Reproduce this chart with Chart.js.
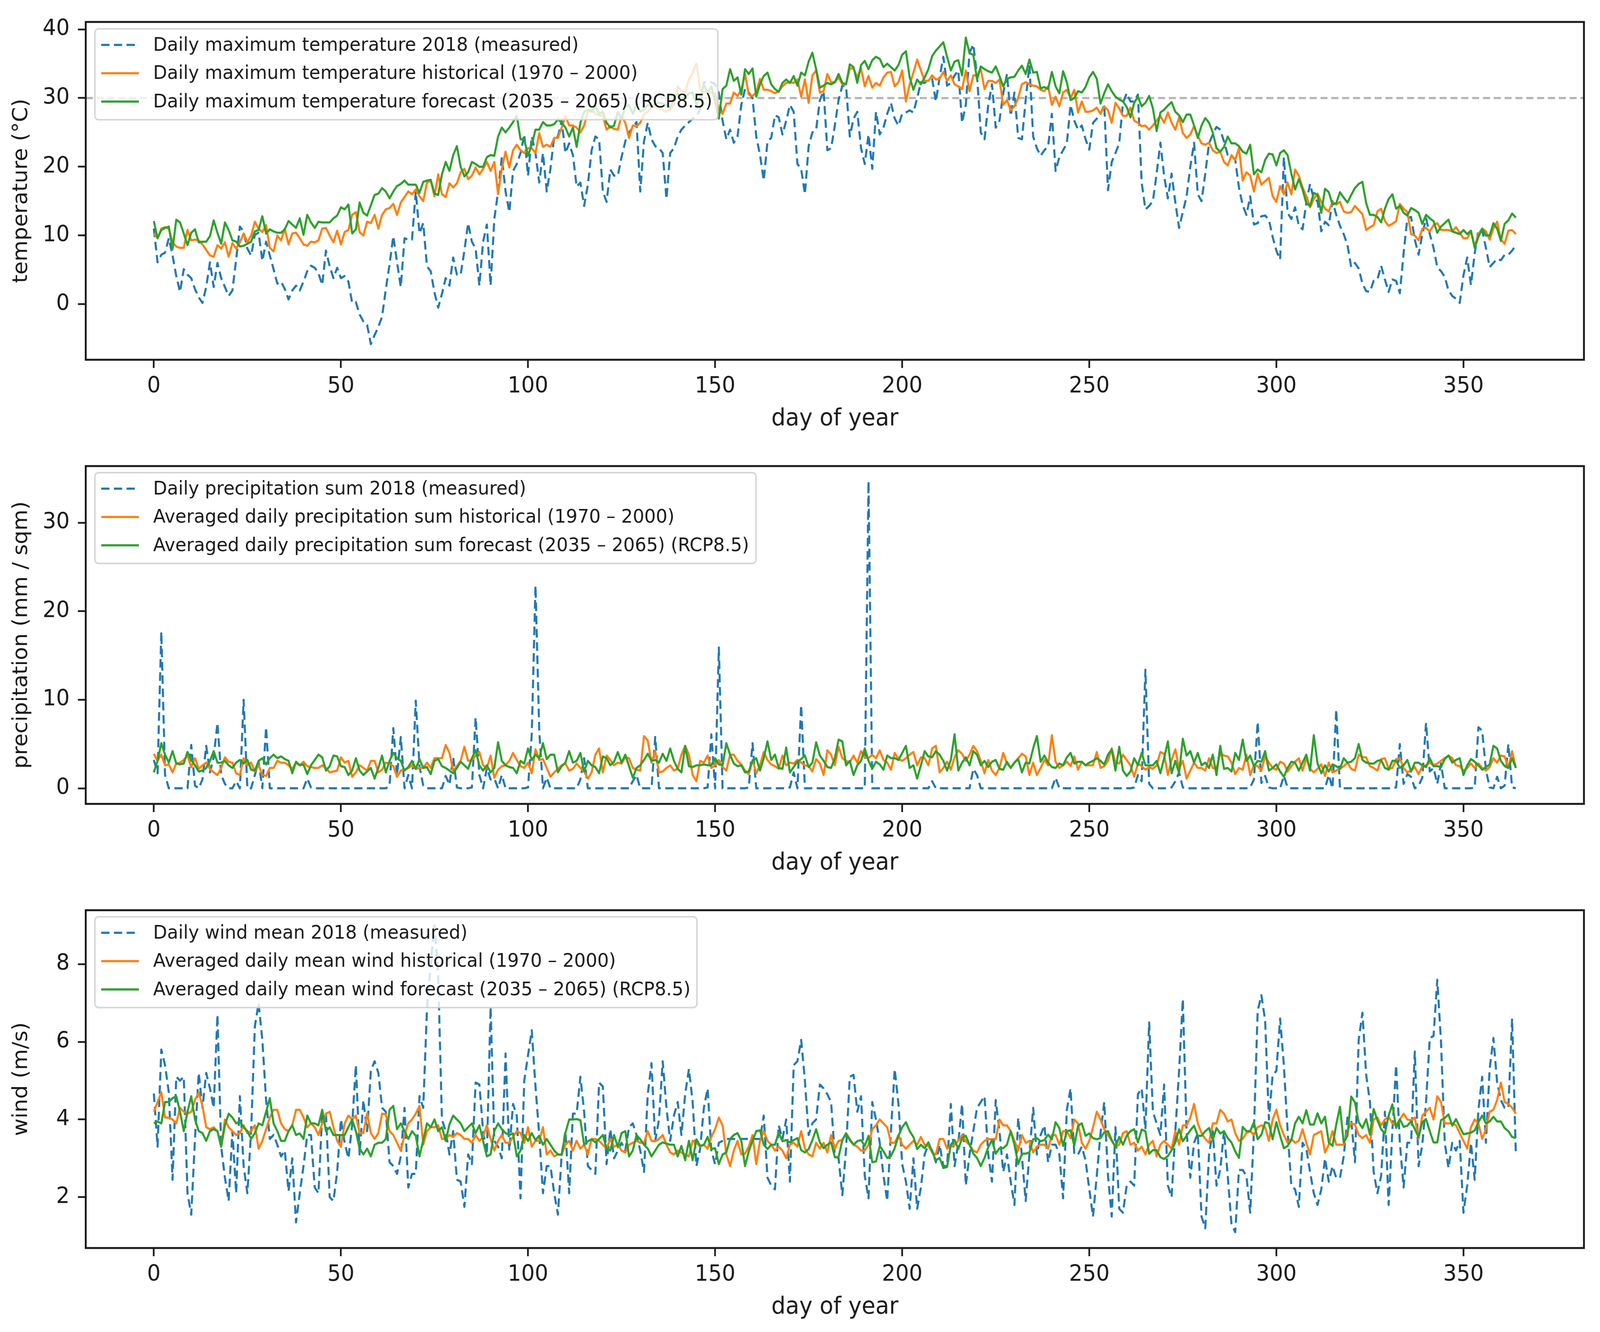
<!DOCTYPE html>
<html>
<head>
<meta charset="utf-8">
<title>Daily temperature, precipitation and wind</title>
<script src="https://cdn.jsdelivr.net/npm/chart.js@4"></script>
<style>
  html, body { margin: 0; background: #fff; overflow: hidden; }
  /* the canvases are laid out on a 4284 wide grid and fitted to the window */
  canvas { position: absolute; left: 0; width: 100vw !important; height: 1136px !important; }
</style>
</head>
<body>
<canvas id="tempChart" width="4284" height="1136" style="top:0"></canvas>
<canvas id="rainChart" width="4284" height="1136" style="top:1137px"></canvas>
<canvas id="windChart" width="4284" height="1136" style="top:2274px"></canvas>
<script>
const xTickValues = [0, 50, 100, 150, 200, 250, 300, 350];
const tempTickValues = [0, 10, 20, 30, 40];
const rainTickValues = [0, 10, 20, 30];
const windTickValues = [2, 4, 6, 8];
const heatLimit = 30;

const tempLabels = [
  'Daily maximum temperature 2018 (measured)',
  'Daily maximum temperature historical (1970 – 2000)',
  'Daily maximum temperature forecast (2035 – 2065) (RCP8.5)'
];
const rainLabels = [
  'Daily precipitation sum 2018 (measured)',
  'Averaged daily precipitation sum historical (1970 – 2000)',
  'Averaged daily precipitation sum forecast (2035 – 2065) (RCP8.5)'
];
const windLabels = [
  'Daily wind mean 2018 (measured)',
  'Averaged daily mean wind historical (1970 – 2000)',
  'Averaged daily mean wind forecast (2035 – 2065) (RCP8.5)'
];

const tempMeasured = [
  11,6.1,7.2,7.5,9.6,7.1,4.1,1.8,5.1,4.3,
  3.8,2.2,1,0.2,2.5,6.1,2.5,6,3.8,2.5,
  1.2,2,6.5,11.3,10.6,8.1,7.1,10.1,10.4,6.3,
  9.1,7.1,5.1,3,3.3,2.2,0.7,2,2.7,2,
  3.3,4.8,5.6,5.3,4.5,2.8,7.8,5.5,3.8,5.3,
  3.8,4.1,3.3,0.2,0.3,-1.5,-2.5,-3,-5.8,-4.5,
  -3.3,-1.8,2.2,5.8,9.9,6.1,2.5,9.6,9.4,9.4,
  16.4,10.3,11.8,5.5,4.8,1.7,-0.5,1.5,3.8,2.7,
  6.8,4.3,4.3,7.8,11.8,9.1,8.1,2.7,9.1,11.6,
  2.7,12.4,16.4,21.4,16.4,13.4,19.4,20.4,22,24.7,
  18.7,24.4,22,17.7,22,16.4,19.7,24.4,24.4,26.7,
  22,23.4,21.7,17.1,17.7,14.3,17.4,22.4,24.4,24,
  16.4,14.9,19.6,18.7,18.7,21.4,23.7,25,25.7,26.5,
  16.4,23.7,26.4,24,23,22.7,22,15.3,22,22.7,
  24.4,25.4,26,26.5,27,27.4,28.3,32.3,32.3,32.3,
  32,30.7,26.7,24,25.4,23.5,24.4,29,31.3,30.8,
  30,24.4,21.7,18,23.7,24.2,27.5,27.2,24.7,26.7,
  29,28,20.4,19.7,16,23,25,25.4,29.7,31,
  22.4,22.7,26,29.7,31.8,31.7,24.4,27,28,22.7,
  20.4,24.7,19.7,28,24.7,25.7,27.7,29.3,27,26,
  27.7,27.9,28.2,27.9,30,32.3,32.2,32.7,32.8,29.5,
  33,36,31.8,32.2,33.3,34,26.4,29,36.6,37.8,
  33.3,25,24,29,32,25.7,26.7,30.7,33.5,27.4,
  30.8,24.2,24,29.7,34.8,24.4,22.7,21.6,22.4,23,
  27.7,19.4,21.4,22.4,23.4,29,26.7,25.4,26,24,
  22.5,26.4,27,27.7,29,16.6,20.7,22,23.4,29.3,
  30.7,29.5,29.5,30.5,17.7,13.8,14.3,15,19,23.5,
  18.7,15.4,19,14.8,11.1,13.4,15.7,20,23.5,16,
  15,19,23.4,24.7,25.8,25.4,23.7,21.7,21.6,21,
  17,14.4,13,15.7,11.6,11.8,12.8,12.9,12.3,9.8,
  7.8,6.5,21.4,13.3,12.4,14.1,11.4,10.9,14.8,17.5,
  15.3,15,10.6,12,11.5,15,13,11.4,10.2,8.6,
  5.4,6,5.2,3,1.9,1.8,3.4,3.6,5.6,3.6,
  1.8,3.6,3.4,1.6,7.4,12.5,12.7,9.4,7.2,10.2,
  12.5,10.2,8.2,5.4,4.8,4,2,1.2,0.8,0.2,
  4.2,6.8,2.8,7.4,10.8,10.8,8.2,5.4,6,6.6,
  6.4,7.2,7.2,7.8,8.6
];
const tempHistorical = [
  10.3,9.6,11,11.2,11,9,8.4,8.2,8.2,10.8,
  9.3,9.4,9.3,8.7,7.9,7.1,6.9,8.6,8.1,9,
  6.9,8.9,8.1,9,10.3,9,10,12,11,10.5,
  11.5,8.2,7.7,10,9.3,11,8.7,10.3,10.4,9.6,
  8.7,8.5,9.1,9,9.3,11,11.1,10,9,10.7,
  8.7,10.5,10.8,13,13.4,10.5,10,12,11.8,13,
  11,13,13.8,14,14.6,13,14.8,15.6,16.4,16,
  16.7,15.7,15,17.7,18,15.7,18.9,16,15.6,17.6,
  17,17.6,19.2,19.7,18.2,18.7,19.9,18.9,19.7,20.7,
  19.4,20.7,16,19.7,22.2,19.9,22.4,23.2,22.4,22,
  22.7,22.7,22,24.9,22.9,23.2,22.9,24.2,24.2,25.7,
  27.4,26,26,25.7,25,26,28,28.3,27.7,27.5,
  27.4,25.4,25.9,25.5,25.4,27.4,26.4,24.2,26,25.9,
  26.4,27.7,28,28.7,28.7,28.5,28.3,28,28.3,29,
  31.7,31,30.8,32.7,33.7,35,31.3,30.8,31,30.7,
  30.7,28.3,27.7,29.2,29.2,30.8,30.3,31.2,33.5,30.5,
  30.3,30.8,32.8,31.2,31.2,31,30.7,31,31.7,32.2,
  32.3,32.2,32.7,30.2,32.7,29.3,33.3,34,30.8,31,
  33.5,32.3,32.3,33,32,32,34.3,34.3,33,34.3,
  31.7,33.2,31.5,32.2,31.8,33,33.7,33.8,31.7,32.3,
  34,29.5,32,33.7,35.6,34,32.5,32.5,33.3,32.7,
  32.8,33.8,32.5,33.3,32,31.7,31.3,34,31,33.3,
  33.3,34.2,31.3,32.5,32.5,32.2,32.7,29,29.7,28.2,
  28.8,30,32,32.3,32,31.8,31.7,31.2,31,31.7,
  29,30.2,28.8,30.8,31.2,30,31.2,27.9,29.5,28,
  28,28.2,28.6,27.7,28.8,28.2,26.4,29.3,28.5,27.4,
  27.4,28.6,26.7,26.4,25.9,26,25.4,26,26.7,27.4,
  26.4,27.9,26.4,25.4,27.2,24.9,24.2,24.7,25.9,24.5,
  23.4,23.2,23.5,22.4,22,22.2,20.7,20.2,21.7,21,
  22.7,18,19.2,18.7,16.4,19,17.4,17.9,18.4,15.7,
  14.9,17.2,16,17.7,16,19.6,18.7,17,15.7,14.1,
  15.3,16.1,14.9,13.9,13.5,14.9,14.5,14.9,13.5,13.3,
  13.4,14.3,13.7,13.1,10.8,11.2,11.5,13.5,13.9,12.1,
  11.4,11.7,12.1,14.6,13.9,13.4,10.2,10,9.3,11,
  11.1,10.6,11.5,11.8,10.8,10.8,10.8,10.6,11.2,10.4,
  9.6,9.6,10.6,8.4,10.2,11,10.6,9.4,11,12,
  9.4,8.8,10.7,10.8,10.2
];
const tempForecast = [
  12.1,9.6,10.8,11.1,11.3,8,12.3,11.9,10.3,8.6,
  10.4,10.9,9,9.1,9.1,9.9,12.2,10.4,8.8,11.9,
  10.8,9.3,9.1,8.4,8.5,8.8,9.1,10.6,10.8,12.8,
  10.3,10.9,10.6,10.4,10.4,10.9,12.1,11.6,11.1,12.5,
  10.1,13,11.9,11.1,12,11.9,11.9,11.9,12.5,12.9,
  14.1,13.8,14.5,10.3,10.9,14.8,13.3,12.9,14.4,15.9,
  16.1,16.9,16.4,15.4,16.4,17.2,17.5,18,17.4,17.4,
  17.4,16.2,17.8,18,18.1,16.1,15.9,18.9,20.7,19.4,
  21.7,23,20,18.6,19.2,20.7,20.4,20,20,21.4,
  21.7,21.6,24.4,25.7,25,25.7,26.5,27.4,24,24,
  21.6,23.2,25.4,25.4,26.5,26,26,26.2,26.9,26.4,
  25.7,24.4,25.7,22.9,26.4,28,28.3,28,28.7,27.7,
  28,26.4,25.7,26,28,27,28.7,29,27.7,29.2,
  28,28.3,29,28.8,29.2,29.3,29.2,29,28.5,30,
  30.7,30,30,30.7,30.8,29,30,32,30.7,31.7,
  29.5,27,31.3,31.8,34.2,32.5,33,30.5,34.2,33.5,
  34.3,30.2,32,33.2,33.7,32,31.3,30.9,32.2,32.7,
  32.2,33.2,31.8,33.7,33.3,35.3,36.6,34.2,31.5,31.8,
  32.2,32,32.3,33.5,32.2,32,34.9,34.5,32.2,34.8,
  35.4,34.2,35.5,36,35.7,34.5,35,34.5,34,34.8,
  36.3,36.8,33,31.2,32.7,32,33,34.2,36.1,36.9,
  37.5,38.1,36,34,35.3,35.5,33.3,38.8,36.5,36.3,
  32.7,34.6,34.2,33.9,33.7,34.6,33.2,31.7,32.8,33,
  33.1,34,34.7,33.5,35.6,33.7,33.8,31.4,31.6,31.3,
  33.8,31.7,30.7,33.9,32.3,29.7,30,31,30.8,31.6,
  33,33.8,32.8,29.2,30.7,32,31,30.2,29.8,29.5,
  28.7,27.2,29.3,30.2,28.8,29.3,30.3,28.5,25.2,27.9,
  28.3,28.9,29.4,28,27.5,26.5,27.6,27.6,26,24.2,
  26,27.1,26.4,25,22.7,22.2,22.9,24.4,23.4,23.4,
  23,22.2,21.9,23.2,18.9,19.6,19.2,21,21.9,21.8,
  20.2,22,22.4,21.7,19,16.7,18.2,16.7,14.7,14.3,
  16.2,15.9,13.3,16.8,16.3,14.5,14.7,16.3,15.5,14.8,
  15.9,16.9,17.5,17.8,14.7,13,13,12.7,11.9,13.9,
  15.3,16,13.9,14.3,13.3,12.9,14,13.7,13.3,11.7,
  13,12.5,12.1,10.4,11.3,11.8,12.3,10.6,10.4,10.2,
  10.8,10.2,10.7,8.2,9.8,11,10,10,11.8,11,
  9.2,11.7,12.2,13.2,12.6
];

const rainMeasured = [
  3.2,1.7,17.7,1.5,0,0,0,0,0,0,
  4.9,0.3,0,1,4.8,1.8,3.5,7.4,1.5,0.5,
  0,0,0.8,0,10,0,0,1.5,3,0,
  6.9,0,0,0,0,0,0,0,0,0,
  0,1.1,0.1,0,0,0,0,0,0,0,
  0,0,0,0,0,0,0,0,0,0,
  0,0,0,0.3,6.8,1.5,5.8,0,1.5,0,
  9.9,2.5,0.3,0,0,0,0,0,1.4,0.4,
  3.5,0.1,0,0,0,0.1,8,1.5,0,2.3,
  1,1.1,0,1.5,0,0,0,0,0,0,
  0.1,6.1,22.9,6.5,0,1.2,0,0,0,0,
  0,0,0,0,1,3.4,0,0,0,0,
  0,0,0,0,0,0,0,0,0.8,1.5,
  0,0,0,0,5.8,0,0,0,0,0,
  0,0,0,0,0,0,0,0,0.1,6.1,
  0,15.9,0,0,0,0,0,0,0,0.1,
  5.1,0,0,0,0,0,0,0,0,0,
  0.1,1.8,0,9.4,0,0,0,0,0,0,
  0,0,0,0,0,0,0,0,0,0,
  0,34.7,0,0,0,0,0,0,0,0,
  0,0,0,0,0,0,0,0,0.8,0,
  0,0,0,0,0,0,0,0,0,2.2,
  1.5,0,0,0,0,0,0,0,0,0,
  0,0,0,0,0,0,0,0,0,0,
  0,1.2,0,0,0,0,0,0,0,0,
  0,0,0,0,0,0,0,0,0,0,
  0,0,0.1,1.5,0.8,13.4,0.5,0,0,0,
  0,0,0.1,0.8,1.8,0.1,0,0,0,0,
  0,0,0,0,0,0,0,0,0,0,
  0,0,0,0.1,1,7.5,0.6,1.4,0.1,0,
  0,0,1.4,0.1,0,0,0,0,0,0,
  0,0,0,0,1.5,0,8.9,0,0,0,
  0,0,0,0,0,0,0,0,0,0,
  0,0,0.1,5,0.5,1.6,1.3,0,0.3,1.2,
  7.4,1.9,2.3,0.5,2.8,0,0,0,0,0,
  0,0,0,0.1,6.9,6.5,2.1,0.1,0,1.3,
  0,0.3,5,0.1,0
];
const rainHistorical = [
  3.9,3.1,3.8,2.6,2.7,1.8,2.8,2.9,3.2,3.7,
  2.4,3.4,2.2,2.6,2.9,2.2,1.8,1.5,2.3,3.5,
  3,2.9,1.7,1.5,3.4,2.6,2.9,1.9,2.6,1.5,
  1.4,2.3,2.3,3.1,2.9,2.9,2.6,2.2,2.9,2.6,
  3,2.5,2.4,2.3,2.3,2.6,2.3,1.8,1.9,2,
  3.5,2.9,3.1,1.3,1.8,2.6,2.3,2,3.1,3.1,
  1.8,2.1,2.9,2.8,2.5,1.3,2,2.1,2.3,2.6,
  2.2,2.3,2.3,2.9,2.3,3.4,3.4,3.4,4.9,4,
  2,2.5,3.1,4.7,3.1,3.2,3.7,4.1,2.6,2.3,
  3.7,1.2,2.1,2.5,2.6,3.1,4,3.2,2.5,2.3,
  2.9,1.7,4.4,3.2,3.3,2.3,1.3,1.8,2.2,2.6,
  2.8,2,2.2,2.8,2.3,1.9,1.1,1.8,3.8,4.5,
  1.8,3.7,3.2,2.6,2.9,2.8,3.5,3.4,2.3,2.1,
  2,5.9,5.4,2.9,4.2,1.8,1.9,2.3,2.6,2,
  2.2,3.8,4.8,3.8,1.5,0.8,3.1,2.9,3.7,2.3,
  2.6,3.2,2.4,2,3.8,3.8,3.1,2.7,2,1.6,
  3.2,1.7,2.6,4.1,3.2,2.7,2.5,2.2,3.7,2.6,
  2.9,2.8,3.2,2.9,2.6,2.5,1.9,3.3,2.8,1.5,
  4.3,3.8,2.6,4.7,3.4,3.1,2.9,3.7,2.9,4.2,
  3.5,3.4,3.8,3.4,4.3,3.2,2.9,2.1,4,3.3,
  3.1,3.4,3.8,4.1,2.6,3.5,3.4,2.6,4.5,4.8,
  1.8,2.3,3,2.1,3.5,4.3,3.9,3.1,3.8,4.8,
  4.2,3.1,1.7,3.2,2,1.5,2.3,4,2.8,2.3,
  2.9,3.4,3.9,3.6,1.5,2.9,1.5,2.3,3.2,2.6,
  6,3,2.3,2.6,3,2.5,3.6,2.1,3,2.6,
  2.6,2.6,4.1,2.3,2.5,3.1,4.5,2.9,2.8,3.8,
  3.2,2.6,1.3,2.8,2.5,2.1,2.4,2.2,2.6,4.1,
  3.9,1.5,3.2,4.4,2.2,3.1,1.1,2,2.9,2.3,
  2.3,2,3.4,2.3,2.2,4,3.7,3.6,2.9,1.6,
  2.3,2.1,3.8,1.5,2.6,2.5,2,3.6,2.9,2.3,
  2.1,3,2.8,1.9,2.5,3,3.4,2,3.4,2.2,
  1.8,2.2,2.7,1.4,2.9,1.8,2,2.2,2.5,2.9,
  2.2,2,3.8,3.5,3.5,2.5,2.3,2,3.3,3.4,
  2.2,2.3,3.3,3.4,2.3,1.8,2,2.4,1.6,2.5,
  2.6,2.9,2.6,2.8,3.1,3.4,3.7,3.4,2.6,2.5,
  2,2.3,2.8,2.3,2.8,2.3,2,2.4,3.4,2.9,
  3.7,3.6,2.3,4.2,2.3
];
const rainForecast = [
  1.8,3.1,5.1,3.8,2.9,4.2,2.8,2.7,2.8,4.1,
  3.2,2.6,1.9,2,2.3,3.1,4.2,2.9,2.9,3.1,
  2.6,2.3,2.9,3.2,2.8,3.2,2.1,2,3.1,3.4,
  2.7,3.4,3.8,3.4,3.6,3.3,3.1,1.7,3,2.6,
  2.7,1.6,2.6,3.2,3.8,3.5,2,2.5,3.7,3.6,
  2.5,2.4,1.5,2,3.4,2,1.5,1.9,2.3,1.1,
  2.3,3.7,1.8,3.1,4,3.4,3.1,2,2.4,3.1,
  2.2,3.3,2.3,2.4,1.6,3.1,3.3,2.5,2.3,2,
  1.7,2.3,3,2.6,2.2,3.4,4.3,2.6,2,2.6,
  1.8,2.3,5.2,3.1,2.6,2.4,2.3,1.7,3.1,2.8,
  4.5,3.2,3.8,3.4,5.1,3.3,3.8,3.8,1.8,2.5,
  2.9,4.2,2.9,3.1,4,1.9,3.1,2.6,2.4,1.7,
  3.6,3.4,2.6,3,4.1,2.9,3.8,2.5,1.2,2.3,
  2.6,3.2,3.9,3.1,3.2,2.9,3.9,3.1,4.5,3.1,
  2.2,1.8,4.8,2.5,2.4,2.6,2.6,2.7,2.6,2.6,
  3.4,2.7,2.6,5.1,3.8,2.8,2.5,2.6,1.8,1.9,
  3.1,3.4,2,3.4,5.3,3.2,3.8,2.3,2.2,4.6,
  1.8,2.4,3,3.3,3.7,2.4,2.9,5.2,3.7,3.1,
  2.4,2.3,3.4,5.5,5.3,2.6,3.1,1.5,2.6,3.1,
  4.5,3.1,2.2,3,2.7,2.1,3.7,3.4,3.4,3.2,
  4,4.8,2.3,2.6,1.1,2.6,4.2,3.6,3.5,4.2,
  3.8,3.1,2,3.2,6.1,2,2.9,3.5,2.6,4.2,
  3.8,2.6,3.1,2.4,3,3.2,2.2,2.1,3,2.3,
  2.9,3.3,1.8,2.9,2.8,4.5,5.9,3,3.7,2.9,
  2.4,2.3,2.8,2.6,3.5,4,2.8,3,3,2.6,
  2.9,3.1,3.4,3.1,2.7,3.8,4.4,2,4.7,2,
  1.4,1.9,3.4,2.6,4,2.6,2.6,2.6,3.1,1.7,
  3.4,5.3,1.7,3.1,1.7,5.6,3.7,4.2,2.9,4,
  2.6,2.9,2.3,3.8,1.5,4.8,2.2,2.3,1.9,4,
  3.2,5.5,3.1,3.7,2.5,3.1,3,4.2,2,2.3,
  2.7,1.9,1.3,2.3,3,2.9,2,2.9,3.8,2,
  6,2.8,1.7,2.6,1.9,2.7,2.5,2.2,3.4,2.9,
  3,3.4,5,3.2,2.9,2.8,2.8,3.1,3.2,2.3,
  2.1,3.1,3.1,2.3,2.6,3.2,1.9,2.9,2.9,2.6,
  2.4,3.4,2.5,2.5,2.4,3.3,3.7,2.9,3.2,3.4,
  1.5,2.6,3.3,3,2.6,2.1,2.4,2.7,4.8,4.5,
  3.1,2.5,2.3,3.4,2.3
];

const windMeasured = [
  4.67,3.3,5.8,5.4,4.7,2.45,5.1,5,5.1,2.1,
  1.55,3.5,5.2,4.3,5.2,4.8,4.3,6.7,3.3,2.5,
  1.9,3.7,2.1,4.6,2.8,2.1,3.7,6.4,7,6.05,
  4.5,3.5,3.6,3.35,3.05,3.2,2.15,3,1.35,2.1,
  2.8,3.6,3.6,2.25,2.1,4.15,4.15,2,1.9,2.65,
  4,3.4,3,3.85,5.4,3.1,4.5,3.7,5.25,5.5,
  5.2,4.3,4.2,2.9,2.8,2.6,3.05,4.3,2.25,2.6,
  2.6,4.6,4.3,6.85,8,9,7.7,4,3.7,3.1,
  3.7,2.45,2.4,1.75,3.1,2.85,4.95,4.9,3.7,3.1,
  6.9,3.45,3.3,3,5.7,3.2,4.4,4.1,1.97,5,
  5.65,6.3,4.85,3.6,2.1,2.8,2.8,2.1,1.55,3.1,
  3.7,2.1,4.15,4.15,5.1,4.2,2.8,2.7,2.6,4.95,
  4.85,2.85,3.75,3,3.2,3.4,3.2,3.8,3.9,3.6,
  3.2,2.65,4.65,5.45,3.45,4,5.5,4.3,3.45,4.1,
  4.45,3.6,4.65,5.3,4.45,2.8,3.25,4.3,4.8,3.2,
  2.85,3.4,3.45,3.5,3.5,3.5,3.5,3.5,3.5,3.5,
  3.5,3.5,3.5,4.1,2.5,2.3,2.2,3.85,3.5,4,
  2.4,5.4,5.5,6.05,5,3.6,3.9,4,4.9,4.8,
  4.65,4.45,3.05,3,2.05,3.25,5.1,5.15,4.2,4.6,
  2.55,1.97,4.45,4,3.4,2.55,1.9,3.7,5.3,4.4,
  2.85,2.4,1.7,3,1.7,2.25,3.1,3.35,3.2,2.9,
  3.35,2.8,2.8,4.4,2.8,3.4,4.4,2.3,3.1,3.7,
  4.3,4.45,4.6,3.1,2.4,4.5,3.7,2.65,3.1,2.4,
  1.8,4.05,3.05,1.9,3.1,4.3,3.1,3.6,3.85,2.9,
  3.35,3.35,3.1,1.97,4.25,4.8,3.1,3.1,3.3,2.95,
  2.2,1.5,2.55,3.65,4.45,2.55,1.5,3.8,1.7,1.6,
  2.3,2.4,2.3,4.65,4.8,3.75,6.5,4.2,3.9,3.6,
  4.9,2.3,2,3.7,5.25,7.1,3.7,2.5,3.4,3.65,
  1.5,1.2,3.1,3.7,2.3,2.7,3.7,2.55,1.3,1.1,
  2.7,2.7,2.55,1.6,3.7,6.8,7.2,6.55,4,5.15,
  5.25,6.6,5.4,3.7,2.3,2.2,1.75,3.4,3.25,2.65,
  2.1,1.8,2.2,3,2.4,2.8,2.5,2.5,3.05,4.05,
  4,2.9,6.05,6.75,5.15,4.45,2.65,2.1,2.55,4.2,
  1.8,3.7,5.4,3.4,2.25,3.4,3.4,5.75,2.8,3.35,
  4.45,6.1,6.15,7.6,6,3.4,2.75,3.4,3.2,3.45,
  1.6,2.3,3.4,2.45,4.25,5.1,3.4,5.3,6.1,4.95,
  4.5,4.3,4.3,6.6,3.1
];
const windHistorical = [
  4.2,4.45,4.7,4.05,4.05,4,3.9,4.3,4.2,4.15,
  4.2,4.5,4.7,4.35,3.8,3.75,3.8,3.7,3.3,4,
  3.8,3.7,3.6,3.65,3.85,3.65,3.7,3.85,3.25,3.45,
  3.75,4.05,4.25,4.25,3.9,3.75,3.7,3.85,4.25,4.25,
  4.05,3.8,3.9,3.8,3.6,3.9,4.15,4.2,3.8,3.45,
  3.3,3.9,4.1,4,4.1,3.65,3.65,4.15,3.65,3.5,
  3.65,4.15,4.13,3.7,3.6,3.4,3.2,3.6,3.9,4,
  4.15,4.35,3.35,3.7,3.8,3.8,3.85,3.5,3.5,3.6,
  3.55,3.65,3.6,3.5,3.5,3.4,3.6,3.45,3.55,3.85,
  3.5,3.2,3.45,3.6,3.4,3.4,3.55,3.7,3.65,3.4,
  3.8,3.3,3.45,3.45,3.8,3.1,3.2,3.05,3.1,3.1,
  3.35,3.45,3.2,3.45,3.25,3.35,3.1,3.5,3.5,3.45,
  3.35,3.25,3.5,3.3,3.35,3.2,3.15,3.35,3.4,3.45,
  3.4,3.4,3.7,3.45,3.44,3.5,3.6,3.35,3.15,3.1,
  3.2,3.15,3.1,3.05,3.45,3.4,3.3,3.35,3.25,3.55,
  3.75,4.05,3.85,3.1,2.8,3.2,3.45,3.1,3.12,3.3,
  3.6,2.85,3.45,3.7,3.45,3.35,3.2,3.3,3.2,3,
  3.35,3.4,3.3,3.7,3.25,3.1,3.05,3.4,3.25,3.4,
  3.15,3.6,3.25,3.45,3.47,3.65,3.5,3.35,3.3,3.2,
  3.2,3.35,3.75,3.85,4,3.9,3.8,3.4,3.4,3.6,
  3.35,3.25,3.35,3.45,3.35,3.55,3.35,3.32,3.15,3.1,
  3.5,3.5,3.25,3.3,3.35,3.45,3.6,3.44,3.35,3.2,
  3.15,3.35,3.45,3.5,3.49,3.49,4,3.85,3.85,3.7,
  3.45,3.2,3.6,3.4,3.45,3.15,3.3,3.35,3.35,3.25,
  3.6,3.6,3.35,3.7,3.7,3.52,4,3.9,3.4,3.25,
  3.45,3.8,4.2,4,3.75,3.6,3.45,3.3,3.35,3.65,
  3.7,3.35,3.4,3.2,3.3,3.1,3.35,3.45,3.05,3.35,
  3.45,3.35,3.25,3.7,3.35,3.85,3.85,4.05,4.4,3.9,
  3.65,3.5,3.4,3.9,3.9,4.25,4.15,3.95,4,3.65,
  3.45,3.5,3.65,3.7,3.6,3.8,3.85,3.8,3.45,4,
  4.25,3.85,3.6,3.4,3.5,3.4,3.45,3.75,3.4,3.1,
  3.6,3.65,3.7,3.15,3.35,3.7,3.35,3.35,3.35,3.7,
  3.9,3.87,3.6,3.52,3.6,3.4,4,4.05,3.85,4,
  4.07,3.9,3.85,4,4.15,4,3.98,4.05,3.5,4.1,
  4.2,4.3,4,4.6,4.45,3.9,3.9,3.9,3.85,3.65,
  3.45,3.25,3.8,4,3.9,3.5,3.75,4.2,4.25,4.5,
  4.95,4.45,4.4,4.3,4.15
];
const windForecast = [
  3.9,3.95,3.9,4.45,4.45,4.55,4.6,4.2,3.7,4.2,
  4.6,4,3.7,3.65,3.45,3.7,3.75,3.7,3.3,3.85,
  4.15,4.05,3.9,3.95,3.8,3.7,3.5,3.65,3.9,3.85,
  4.2,4.55,3.9,3.7,3.45,3.45,3.7,3.85,3.6,3.64,
  3.5,4.1,3.9,3.9,3.85,4.25,3.7,3.8,3.6,3.6,
  3.6,3.6,3.8,4,3.7,3.25,3.1,3.25,3.05,3.35,
  3.4,3.4,3.5,4.25,4.35,3.75,3.9,3.7,3.5,3.7,
  3.58,3.05,3.47,3.9,3.8,4,3.7,3.8,3.45,3.87,
  4.1,4,3.9,3.7,3.8,3.9,3.65,3.85,3.45,3.05,
  3.1,3.7,3.9,3.75,3.65,3.6,3.64,3.05,3.2,3.6,
  3.45,3.65,3.47,3.58,3.35,3.5,3.35,3.2,3.1,3.09,
  3.65,4,4,4.01,3.98,3.35,3.44,3.49,3.41,3.5,
  3.6,3.25,3.2,3.6,3.29,3.65,3.7,3.05,3.2,3.6,
  3.49,3.35,3.25,3.05,3.2,3.35,3.41,3.38,3.35,3.35,
  3.05,3.32,2.95,3.45,2.95,3.49,3.32,3.35,3.55,3.24,
  3.26,2.85,3.1,3.15,3.5,3.6,3.65,3.45,2.8,3.18,
  3.45,3.7,3.72,3.35,3.24,3.35,3.35,3.67,3.44,3.47,
  3.41,3.47,3.52,3.21,3.15,3.24,3.47,3.75,3.41,3.26,
  3.35,3.41,3.03,3.03,3.47,3.64,3.47,3.35,3.44,3.47,
  3.32,3.58,2.9,2.92,3.32,3.18,3.01,3.06,3.26,3.58,
  3.8,3.93,3.7,3.55,3.24,3.35,3.26,3.41,3.18,2.95,
  3.01,2.75,2.78,3.35,3.47,3.24,3.52,3.58,3.35,3.12,
  3.01,2.8,3.01,3.29,3.47,3.12,3.26,3.26,3.35,3.7,
  3.35,2.85,3.12,3.12,3.15,3.49,3.52,3.44,3.47,3.61,
  3.49,3.93,3.78,3.32,3.7,3.72,3.32,3.84,3.9,3.58,
  3.64,3.52,3.49,3.52,3.67,3.7,3.47,3.29,3.55,3.35,
  3.58,3.7,3.75,3.41,3.74,3.7,3.12,3.21,3.21,3.03,
  2.98,3.06,3.21,3.41,3.75,3.44,3.58,3.72,3.84,3.58,
  3.58,3.7,3.78,3.47,3.78,3.64,3.7,3.52,3.41,3.18,
  3.01,3.81,3.7,3.7,3.93,3.49,3.61,3.93,3.9,3.49,
  3.93,3.58,3.26,3.32,3.47,3.9,4.07,3.9,4.24,3.87,
  3.87,4.16,3.9,4.07,3.41,3.32,3.87,4.33,3.41,3.58,
  4.59,4.44,3.93,3.78,4.01,3.61,4.27,3.98,3.75,3.64,
  4.1,4.39,3.78,4.01,3.81,3.84,3.95,3.75,3.55,3.93,
  4.01,3.7,3.41,3.41,3.98,4.04,4.13,3.84,4.01,3.81,
  3.62,3.64,3.66,3.72,3.93,4.1,3.9,3.95,4.07,3.95,
  3.95,3.78,3.7,3.55,3.52
];

/* ── THEME ─────────────────────────────────────────────── */
const C = {
    blue:   '#1f77b4',
    orange: '#ff7f0e',
    green:  '#2ca02c',
    grey:   '#b4b4b4',
    ink:    '#1a1a1a',
    font:   "'DejaVu Sans', sans-serif",
};
const LINE = 5.5;
const BLUE_DASH = [22, 12];
const TICK_FONT = 57;
const X_LABEL_FONT = 60;
const Y_LABEL_FONT = 55;
const LEGEND_FONT = 48.6;

/* legend box drawn on top of the lines, matplotlib style */
const boxLegend = {
    id: 'boxLegend',
    afterDraw(chart, args, opts) {
        const ctx = chart.ctx;
        const items = chart.data.datasets.filter(d => d.inLegend);
        const top = opts.top;
        const rowH = 72.5;
        ctx.save();
        ctx.beginPath();
        ctx.roundRect(opts.left, top, opts.right - opts.left, rowH * 3 + 15, 10);
        ctx.fillStyle = 'rgba(255,255,255,0.8)';
        ctx.fill();
        ctx.lineWidth = 4;
        ctx.strokeStyle = 'rgba(204,204,204,0.8)';
        ctx.stroke();
        ctx.font = LEGEND_FONT + 'px ' + C.font;
        ctx.textBaseline = 'middle';
        items.forEach((d, i) => {
            const y = top + 41 + i * rowH;
            ctx.beginPath();
            ctx.setLineDash(d.borderDash || []);
            ctx.lineWidth = LINE;
            ctx.strokeStyle = d.borderColor;
            ctx.moveTo(271, y);
            ctx.lineTo(372, y);
            ctx.stroke();
            ctx.setLineDash([]);
            ctx.fillStyle = C.ink;
            ctx.fillText(d.label, 410, y + 2);
        });
        ctx.restore();
    }
};

/* axes frame, the scales only draw their own side */
const frame = {
    id: 'frame',
    afterDatasetsDraw(chart) {
        const a = chart.chartArea, ctx = chart.ctx;
        ctx.save();
        ctx.lineWidth = 5;
        ctx.strokeStyle = C.ink;
        ctx.strokeRect(a.left, a.top, a.right - a.left, a.bottom - a.top);
        ctx.restore();
    }
};

const toXY = values => values.map((v, day) => ({ x: day, y: v }));

function makePanel(id, cfg) {
    const datasets = [
        { label: cfg.labels[0], data: toXY(cfg.series[0]), borderColor: C.blue, borderDash: BLUE_DASH, order: 3, inLegend: true },
        { label: cfg.labels[1], data: toXY(cfg.series[1]), borderColor: C.orange, order: 2, inLegend: true },
        { label: cfg.labels[2], data: toXY(cfg.series[2]), borderColor: C.green, order: 1, inLegend: true },
    ];
    if (cfg.limit !== undefined) {
        datasets.push({
            label: 'limit',
            data: [{ x: -18.2, y: cfg.limit }, { x: 382.2, y: cfg.limit }],
            borderColor: C.grey,
            borderDash: [19, 10],
            order: 4,
        });
    }
    datasets.forEach(d => {
        d.borderWidth = LINE;
        d.pointRadius = 0;
        d.tension = 0;
        d.borderJoinStyle = 'round';
    });

    const tickGrid = { drawOnChartArea: false, tickLength: 21, tickWidth: 4.5, tickColor: C.ink };
    return new Chart(document.getElementById(id), {
        type: 'line',
        data: { datasets },
        plugins: [frame, boxLegend],
        options: {
            responsive: false,
            animation: false,
            devicePixelRatio: 1,
            layout: { padding: { top: 51, right: 43, left: 0, bottom: 27 } },
            plugins: {
                legend: { display: false },
                tooltip: { enabled: false },
                boxLegend: cfg.legendBox,
            },
            scales: {
                x: {
                    type: 'linear',
                    min: -18.2,
                    max: 382.2,
                    afterFit: s => { s.height = 188; },
                    afterBuildTicks: s => { s.ticks = xTickValues.map(v => ({ value: v })); },
                    grid: tickGrid,
                    border: { display: false },
                    ticks: { font: { size: TICK_FONT, family: C.font }, color: C.ink, padding: 14, maxRotation: 0, autoSkip: false },
                    title: { display: true, text: 'day of year', font: { size: X_LABEL_FONT, family: C.font }, color: C.ink, padding: 0 },
                },
                y: {
                    min: cfg.yMin,
                    max: cfg.yMax,
                    afterFit: s => { s.width = 229.5; },
                    afterBuildTicks: s => { s.ticks = cfg.yTicks.map(v => ({ value: v })); },
                    grid: tickGrid,
                    border: { display: false },
                    ticks: { font: { size: TICK_FONT, family: C.font }, color: C.ink, padding: 22, autoSkip: false },
                    title: { display: true, text: cfg.yTitle, font: { size: Y_LABEL_FONT, family: C.font }, color: C.ink, padding: { top: 25, bottom: 0 } },
                },
            },
        },
    });
}

makePanel('tempChart', {
    labels: tempLabels,
    series: [tempMeasured, tempHistorical, tempForecast],
    limit: heatLimit,
    yMin: -8.08, yMax: 41.07,
    yTicks: tempTickValues,
    yTitle: 'temperature (°C)',
    legendBox: { left: 254, right: 1922, top: 74 },
});
makePanel('rainChart', {
    labels: rainLabels,
    series: [rainMeasured, rainHistorical, rainForecast],
    yMin: -1.76, yMax: 36.4,
    yTicks: rainTickValues,
    yTitle: 'precipitation (mm / sqm)',
    legendBox: { left: 254, right: 2024, top: 73 },
});
makePanel('windChart', {
    labels: windLabels,
    series: [windMeasured, windHistorical, windForecast],
    yMin: 0.69, yMax: 9.39,
    yTicks: windTickValues,
    yTitle: 'wind (m/s)',
    legendBox: { left: 254, right: 1866, top: 73 },
});
</script>
</body>
</html>
